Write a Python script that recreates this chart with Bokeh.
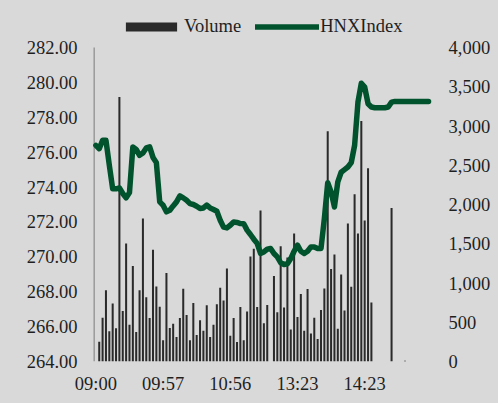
from bokeh.plotting import figure
from bokeh.models import (Range1d, LinearAxis, FixedTicker, NumeralTickFormatter,
                          Legend, LegendItem, ColumnDataSource)
from bokeh.embed import file_html
from bokeh.resources import INLINE

# ---- data ----
tick_positions = [0, 20, 40, 60, 80]
tick_labels = ["09:00", "09:57", "10:56", "13:23", "14:23"]

volume = [0, 252, 557, 909, 384, 740, 422, 3368, 642, 1503,
          468, 1215, 375, 909, 1821, 820, 553, 1422, 956, 697,
          270, 1126, 426, 481, 312, 553, 926, 591, 270, 744,
          337, 524, 392, 715, 312, 468, 728, 939, 778, 1185,
          329, 553, 248, 693, 270, 638, 1338, 1435, 693, 1923,
          486, 719, 0, 1088, 626, 1469, 689, 1325, 409, 1631,
          566, 859, 392, 922, 358, 557, 286, 655, 931, 2932,
          1177, 1364, 417, 1109, 651, 1758, 952, 2131, 1631, 3063,
          1796, 2461, 753, 0, 0, 0, 0, 0, 1956, 0,
          0, 0, 8, 0, 0, 0, 0, 0, 0, 0]

hnx_index = [276.39, 276.20, 276.68, 276.68, 275.25, 273.90, 273.90, 273.95, 273.63, 273.38,
             273.68, 276.30, 276.16, 275.82, 275.95, 276.24, 276.30, 275.70, 275.40, 273.15,
             272.96, 272.58, 272.67, 272.92, 273.15, 273.49, 273.38, 273.24, 273.05, 273.00,
             272.90, 272.77, 272.80, 272.96, 272.80, 272.71, 272.61, 272.10, 271.70, 271.66,
             271.81, 272.00, 271.97, 271.91, 271.90, 271.53, 271.28, 271.01, 270.77, 270.20,
             270.28, 270.44, 270.48, 270.19, 270.00, 269.66, 269.56, 269.60, 269.90, 270.32,
             270.67, 270.32, 270.19, 270.32, 270.57, 270.57, 270.48, 270.48, 272.20, 274.25,
             273.72, 272.86, 274.30, 274.85, 275.00, 275.15, 275.40, 276.39, 278.87, 279.95,
             279.73, 278.78, 278.59, 278.55, 278.55, 278.55, 278.55, 278.59, 278.87, 278.91,
             278.91, 278.91, 278.91, 278.91, 278.91, 278.91, 278.91, 278.91, 278.91, 278.91]

left_ticks = [264, 266, 268, 270, 272, 274, 276, 278, 280, 282]
right_ticks = [0, 500, 1000, 1500, 2000, 2500, 3000, 3500, 4000]

idx = list(range(len(volume)))
src = ColumnDataSource(dict(x=idx, vol=volume, hnx=hnx_index))

BG = "#d9d9d9"
FONT = "Liberation Serif"
TXT = "#1f1f1f"
FS = "18.5px"

# ---- layout geometry (pixels) ----
W, H = 498, 403
B_LEFT, B_RIGHT, B_BOTTOM = 92, 66, 42
TOP_PAD = 47            # room above the value area, inside the frame, for the legend
frame_w = W - B_LEFT - B_RIGHT
frame_h = H - B_BOTTOM
value_h = frame_h - TOP_PAD
cat_px = 3.36
x_start = -0.5 - 1.7 / cat_px
x_end = x_start + frame_w / cat_px
lo, hi = left_ticks[0], left_ticks[-1]
y_end = hi + (hi - lo) * TOP_PAD / value_h
vlo, vhi = right_ticks[0], right_ticks[-1]
v_end = vhi + (vhi - vlo) * TOP_PAD / value_h

p = figure(width=W, height=H, output_backend="svg", toolbar_location=None,
           x_range=Range1d(x_start, x_end), y_range=Range1d(lo, y_end),
           min_border_left=B_LEFT, min_border_right=B_RIGHT, min_border_top=0,
           min_border_bottom=B_BOTTOM)
p.extra_y_ranges = {"vol": Range1d(vlo, v_end)}
p.background_fill_color = BG
p.border_fill_color = BG
p.outline_line_color = None
p.xgrid.visible = False
p.ygrid.visible = False

# left axis line, only over the value area
p.segment(x0=[-0.5], y0=[lo], x1=[-0.5], y1=[hi], line_color="#9a9a9a", line_width=1.5)

bars = p.vbar(x="x", top="vol", width=0.6, bottom=0, source=src, y_range_name="vol",
              fill_color="#2a2a2a", line_color=None)
line = p.line(x="x", y="hnx", source=src, line_width=5.5, line_color="#00532d",
              line_join="round", line_cap="round")

right_axis = LinearAxis(y_range_name="vol")
p.add_layout(right_axis, "right")

for ax in [p.xaxis[0], p.yaxis[0], right_axis]:
    ax.major_tick_line_color = None
    ax.minor_tick_line_color = None
    ax.major_tick_out = 0
    ax.major_tick_in = 0
    ax.minor_tick_out = 0
    ax.axis_line_color = None
    ax.major_label_text_font = FONT
    ax.major_label_text_font_size = FS
    ax.major_label_text_color = TXT

p.xaxis[0].ticker = FixedTicker(ticks=tick_positions)
p.xaxis[0].major_label_overrides = {t: l for t, l in zip(tick_positions, tick_labels)}
p.xaxis[0].major_label_standoff = 12

p.yaxis[0].ticker = FixedTicker(ticks=left_ticks)
p.yaxis[0].formatter = NumeralTickFormatter(format="0.00")
p.yaxis[0].major_label_standoff = 15

right_axis.ticker = FixedTicker(ticks=right_ticks)
right_axis.formatter = NumeralTickFormatter(format="0,0")
right_axis.major_label_standoff = 16

legend = Legend(items=[LegendItem(label="Volume", renderers=[bars]),
                       LegendItem(label="HNXIndex", renderers=[line])],
                location=(27, 324), orientation="horizontal",
                glyph_width=64, glyph_height=11, label_standoff=1, spacing=14,
                padding=0, margin=0, background_fill_alpha=0, border_line_color=None,
                label_text_font=FONT, label_text_font_size=FS, label_text_color=TXT)
p.add_layout(legend)

html = file_html(p, INLINE)
html = html.replace("<body>", '<body style="background-color:#d9d9d9;">')
open("out.html", "w").write(html)
